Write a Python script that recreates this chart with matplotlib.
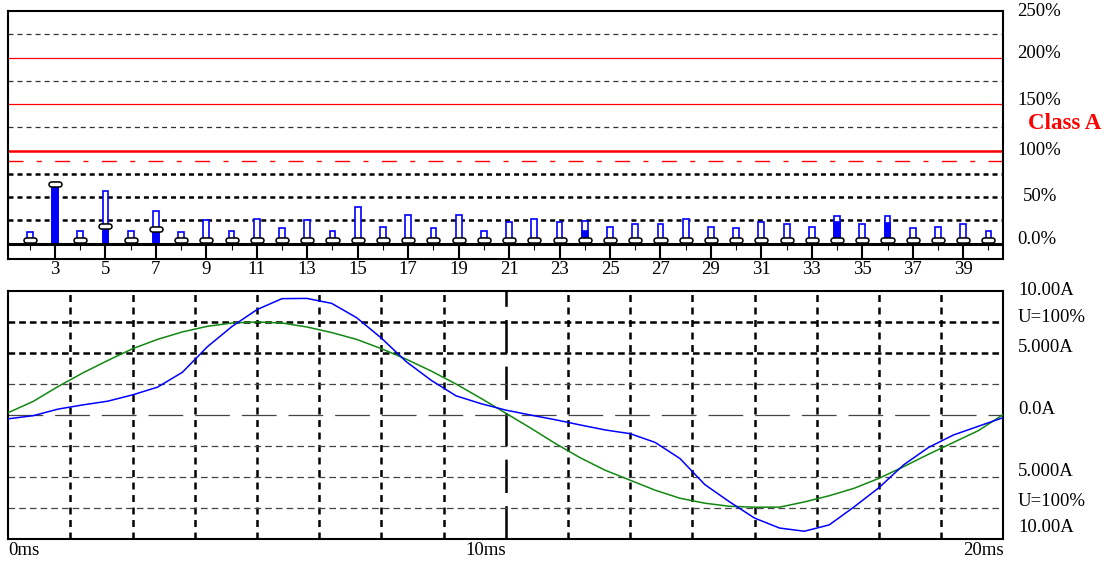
import matplotlib
matplotlib.use('Agg')
import matplotlib.pyplot as plt

plt.rcParams['font.family'] = ['Liberation Serif', 'DejaVu Serif']
plt.rcParams['lines.scale_dashes'] = False

# harmonic spectrum (% of limit)
harmonics = list(range(2, 41))
peak_pct = [13, 60, 14, 56.5, 14, 35.5, 12.7, 25.4, 14, 26.8, 16.7, 25.4, 14, 39.5,
            18.5, 31, 16.7, 31, 14, 23, 26.8, 23, 24.7, 18.5, 21.4, 21.4, 26.8, 18.5,
            16.7, 23, 21.4, 18.5, 29.7, 21.4, 29.7, 16.7, 18.5, 21.4, 14]
fill_pct = [0, 62, 0, 19, 0, 15, 0, 0, 0, 0, 0, 0, 0, 0,
            0, 0, 0, 0, 0, 0, 0, 0, 14, 0, 0, 0, 0, 0,
            0, 0, 0, 0, 23, 0, 22, 0, 0, 0, 0]
mark_pct = [4, 64, 4, 19.5, 4, 15.5, 4, 4, 4, 4, 4, 4, 4, 4,
            4, 4, 4, 4, 4, 4, 4, 4, 4, 4, 4, 4, 4, 4,
            4, 4, 4, 4, 4, 4, 4, 4, 4, 4, 4]
odd_labels = [str(h) for h in harmonics[1::2]]

# waveforms (one cycle, 20 ms)
t_ms = [0, 0.5, 1, 1.5, 2, 2.5, 3, 3.5, 4, 4.5, 5, 5.5, 6, 6.5, 7, 7.5, 8, 8.5, 9, 9.5,
        10, 10.5, 11, 11.5, 12, 12.5, 13, 13.5, 14, 14.5, 15, 15.5, 16, 16.5, 17, 17.5,
        18, 18.5, 19, 19.5, 20]
u_wave = [0.2, 1.1, 2.3, 3.4, 4.4, 5.35, 6.1, 6.7, 7.15, 7.42, 7.5, 7.42, 7.1, 6.65,
          6.1, 5.35, 4.5, 3.55, 2.5, 1.35, 0.15, -1.05, -2.3, -3.45, -4.45, -5.25,
          -6.05, -6.7, -7.1, -7.35, -7.42, -7.42, -7.0, -6.5, -5.9, -5.1, -4.15, -3.15,
          -2.2, -1.25, 0.05]
i_wave = [-0.3, -0.05, 0.48, 0.82, 1.12, 1.63, 2.25, 3.45, 5.5, 7.15, 8.5, 9.38, 9.4,
          9.0, 7.85, 6.2, 4.3, 2.8, 1.55, 0.92, 0.4, 0.0, -0.38, -0.8, -1.2, -1.5, -2.2,
          -3.5, -5.6, -7.0, -8.3, -9.1, -9.36, -8.85, -7.4, -5.85, -4.0, -2.6, -1.6,
          -0.9, -0.2]

BLUE = '#0000ff'
RED = '#ff0000'
GREEN = '#118811'

fig = plt.figure(figsize=(11.13, 5.63), dpi=100)
ax = fig.add_axes([0.00746, 0.5394, 0.894, 0.441])
ax2 = fig.add_axes([0.00746, 0.0423, 0.894, 0.4409])

# ---- top: harmonics
ax.set_xlim(1.15, 40.59)
ax.set_ylim(-16.7, 250)

for y in [25, 50, 75]:
    ax.axhline(y, color='black', lw=1.8, dashes=(3.6, 2.9), zorder=1)
for y in [125, 175, 225]:
    ax.axhline(y, color='#333333', lw=0.9, dashes=(3.6, 2.9), zorder=1)
for y in [150, 200]:
    ax.axhline(y, color=RED, lw=0.9, zorder=1)
ax.axhline(100, color=RED, lw=1.8, zorder=1)
ax.axhline(89, color=RED, lw=1.0, dashes=(10.8, 9.6, 3.6, 9.6), zorder=1)

ax.bar(harmonics, peak_pct, width=0.23, facecolor='white', edgecolor=BLUE, lw=1.2, zorder=2)
ax.bar(harmonics, fill_pct, width=0.23, color=BLUE, edgecolor=BLUE, lw=1.2, zorder=3)

ax.axhline(0, color='black', lw=2.2, zorder=4)
ax.vlines(harmonics[1::2], -16.7, 0, color='black', lw=1.5, zorder=4)
ax.vlines(harmonics[0::2], -7, 0, color='black', lw=0.8, zorder=4)

left = [h - 0.16 for h in harmonics]
right = [h + 0.16 for h in harmonics]
ax.hlines(mark_pct, left, right, color='black', lw=4.8, capstyle='round', zorder=5)
ax.hlines(mark_pct, left, right, color='white', lw=2.5, capstyle='round', zorder=6)

ax.set_xticks(harmonics[1::2])
ax.set_xticklabels(odd_labels)
ax.set_yticks([])
ax.tick_params(axis='x', length=0, pad=1, labelsize=13.5)

ytr = ax.get_yaxis_transform()
for yv, txt, xo in [(249, '250%', 1.0138), (204, '200%', 1.0138), (154, '150%', 1.0138),
                    (100.5, '100%', 1.0138), (50.4, '50%', 1.0198), (4.7, '0.0%', 1.0138)]:
    ax.text(xo, yv, txt, transform=ytr, va='center', ha='left', fontsize=13.5)
ax.text(1.0248, 129, 'Class A', transform=ytr, va='center', ha='left',
        fontsize=16.5, fontweight='bold', color=RED)

# ---- bottom: waveforms
ax2.set_xlim(0, 20)
ax2.set_ylim(-10, 10)

for tv in [1.25 * k for k in range(1, 16) if k != 8]:
    ax2.axvline(tv, color='black', lw=1.8, dashes=(5, 4), zorder=1)
ax2.axvline(10, color='black', lw=1.8, dashes=(24, 9.5), zorder=1)
for y in [7.5, 5]:
    ax2.axhline(y, color='black', lw=1.8, dashes=(4.8, 2.9), zorder=1)
for y in [2.5, -2.5, -5, -7.5]:
    ax2.axhline(y, color='#444444', lw=0.9, dashes=(4.8, 2.9), zorder=1)
ax2.axhline(0, color='#444444', lw=0.9, dashes=(25, 8.6), zorder=1)

ax2.plot(t_ms, u_wave, color=GREEN, lw=1.1, zorder=3)
ax2.plot(t_ms, i_wave, color=BLUE, lw=1.1, zorder=4)

ax2.set_yticks([])
ax2.set_xticks([0, 10, 20])
ax2.set_xticklabels(['0ms', '10ms', '20ms'])
ax2.tick_params(axis='x', length=0, pad=2, labelsize=13.5)
for lab, ha in zip(ax2.get_xticklabels(), ['left', 'right', 'right']):
    lab.set_ha(ha)

ytr2 = ax2.get_yaxis_transform()
for yv, txt in [(10.0, '10.00A'), (7.9, 'U=100%'), (5.44, '5.000A'), (0.46, '0.0A'),
                (-4.56, '5.000A'), (-6.97, 'U=100%'), (-9.03, '10.00A')]:
    ax2.text(1.0148, yv, txt, transform=ytr2, va='center', ha='left', fontsize=13.5)

for a in (ax, ax2):
    for s in a.spines.values():
        s.set_linewidth(1.5)
        s.set_color('black')

fig.savefig('out.png', dpi=100)
